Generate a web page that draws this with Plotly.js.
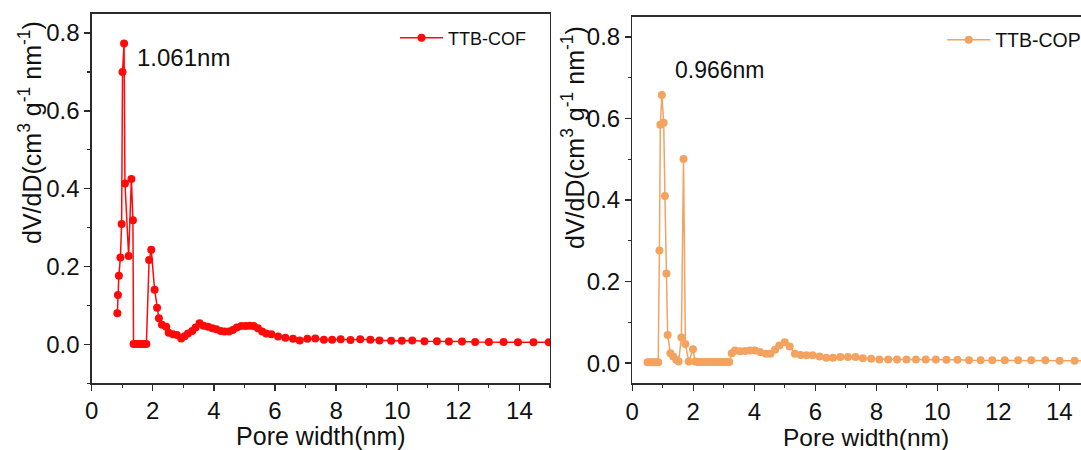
<!DOCTYPE html>
<html>
<head>
<meta charset="utf-8">
<script src="https://cdn.plot.ly/plotly-3.0.1.min.js"></script>
<style>html,body{margin:0;padding:0;background:#fff;}#chart{width:1081px;height:450px;}</style>
</head>
<body>
<div id="chart"></div>
<script>
// TTB-COF pore size distribution (left panel)
const cofX = [0.84,0.86,0.89,0.94,0.98,1.01,1.06,1.09,1.21,1.30,1.35,1.37,1.44,1.51,1.58,1.65,1.72,1.79,1.88,1.95,2.06,2.14,2.20,2.30,2.44,2.52,2.66,2.79,2.93,3.04,3.15,3.29,3.40,3.53,3.66,3.81,3.95,4.08,4.22,4.35,4.49,4.62,4.75,4.90,5.04,5.17,5.30,5.44,5.58,5.71,5.88,6.10,6.34,6.59,6.81,7.06,7.32,7.60,7.87,8.15,8.47,8.79,9.12,9.42,9.80,10.15,10.49,10.89,11.30,11.69,12.12,12.55,13.00,13.48,13.95,14.46,14.96];
const cofY = [0.080,0.127,0.176,0.223,0.309,0.700,0.773,0.413,0.227,0.425,0.319,0.001,0.001,0.001,0.001,0.001,0.001,0.001,0.217,0.243,0.140,0.094,0.067,0.050,0.045,0.030,0.026,0.024,0.015,0.021,0.028,0.034,0.043,0.054,0.048,0.045,0.041,0.039,0.034,0.033,0.033,0.037,0.043,0.047,0.047,0.048,0.047,0.041,0.033,0.028,0.026,0.020,0.017,0.014,0.010,0.014,0.015,0.012,0.012,0.013,0.011,0.013,0.012,0.010,0.009,0.009,0.010,0.008,0.008,0.007,0.007,0.006,0.006,0.006,0.005,0.005,0.005];

// TTB-COP pore size distribution (right panel)
const copX = [0.50,0.57,0.64,0.71,0.78,0.85,0.89,0.92,0.97,1.03,1.07,1.12,1.16,1.25,1.34,1.44,1.52,1.61,1.68,1.74,1.85,1.99,2.06,2.13,2.20,2.28,2.35,2.43,2.50,2.58,2.65,2.73,2.80,2.88,2.95,3.03,3.10,3.18,3.26,3.37,3.53,3.70,3.86,4.02,4.19,4.38,4.53,4.68,4.82,5.00,5.16,5.33,5.52,5.71,5.91,6.14,6.36,6.58,6.82,7.07,7.32,7.56,7.83,8.10,8.39,8.68,8.99,9.30,9.62,9.95,10.30,10.66,11.04,11.42,11.80,12.21,12.65,13.08,13.54,14.01,14.50,15.00];
const copY = [0.002,0.002,0.002,0.002,0.002,0.002,0.276,0.585,0.658,0.590,0.410,0.220,0.069,0.024,0.016,0.008,0.004,0.063,0.501,0.047,0.004,0.034,0.004,0.003,0.003,0.003,0.003,0.003,0.003,0.003,0.003,0.003,0.003,0.003,0.003,0.003,0.003,0.003,0.024,0.031,0.029,0.030,0.031,0.031,0.027,0.023,0.023,0.033,0.043,0.051,0.041,0.023,0.020,0.019,0.019,0.016,0.013,0.013,0.015,0.015,0.015,0.012,0.011,0.009,0.009,0.009,0.009,0.009,0.009,0.009,0.008,0.008,0.007,0.007,0.007,0.007,0.007,0.007,0.007,0.006,0.006,0.006];

const seriesNames = ['TTB-COF', 'TTB-COP'];
const peakLabels = ['1.061nm', '0.966nm'];
const xTitle = 'Pore width(nm)';
const yTitle = 'dV/dD(cm<sup>3</sup> g<sup>-1</sup> nm<sup>-1</sup>)';

const FONT = 'Arial, "Liberation Sans", sans-serif';
const RED = '#ff0a0a';
const ORANGE = '#f3a35f';
const AX = '#2b2b2b';

const traces = [
  {x: cofX, y: cofY, name: seriesNames[0], type: 'scatter', mode: 'lines+markers',
   xaxis: 'x', yaxis: 'y', legend: 'legend',
   line: {color: RED, width: 1.5},
   marker: {color: RED, size: 8, line: {width: 0}}},
  {x: copX, y: copY, name: seriesNames[1], type: 'scatter', mode: 'lines+markers',
   xaxis: 'x2', yaxis: 'y2', legend: 'legend2',
   line: {color: ORANGE, width: 1.5},
   marker: {color: ORANGE, size: 8, line: {width: 0}}}
];

function xAxis(domain, range, anchor, withTitle) {
  const ax = {
    domain: domain, range: range, anchor: anchor,
    showline: true, linecolor: AX, linewidth: 1.3, mirror: true,
    ticks: 'outside', ticklen: 6, tickwidth: 1.3, tickcolor: AX,
    tick0: 0, dtick: 2,
    minor: {dtick: 1, ticks: 'outside', ticklen: 3, tickwidth: 1.2, tickcolor: AX, showgrid: false},
    showgrid: false, zeroline: false,
    tickfont: {family: FONT, size: 24, color: '#111'}
  };
  if (withTitle) ax.title = {text: xTitle, font: {family: FONT, size: 25, color: '#111'}, standoff: 3};
  return ax;
}
function yAxis(domain, range, anchor, mirror) {
  return {
    domain: domain, range: range, anchor: anchor,
    showline: true, linecolor: AX, linewidth: 1.3, mirror: mirror,
    ticks: 'outside', ticklen: 6, tickwidth: 1.3, tickcolor: AX,
    tick0: 0, dtick: 0.2, tickformat: '.1f',
    minor: {dtick: 0.1, ticks: 'outside', ticklen: 3, tickwidth: 1.2, tickcolor: AX, showgrid: false},
    showgrid: false, zeroline: false,
    tickfont: {family: FONT, size: 24, color: '#111'}
  };
}

const layout = {
  width: 1081, height: 450,
  margin: {l: 0, r: 0, t: 0, b: 0, autoexpand: false},
  paper_bgcolor: '#fff', plot_bgcolor: '#fff',
  font: {family: FONT, color: '#111'},
  xaxis: xAxis([0.0848, 0.5088], [0, 15], 'y', true),
  yaxis: yAxis([0.1484, 0.9698], [-0.1, 0.85], 'x', true),
  xaxis2: xAxis([0.5849, 1.0], [0, 14.71], 'y2', false),
  yaxis2: yAxis([0.1478, 0.963], [-0.05, 0.85], 'x2', false),
  showlegend: true,
  legend: {x: 0.3654, y: 0.9156, xanchor: 'left', yanchor: 'middle',
    bgcolor: 'rgba(0,0,0,0)', itemwidth: 43,
    font: {family: FONT, size: 18, color: '#111'}},
  legend2: {x: 0.8716, y: 0.911, xanchor: 'left', yanchor: 'middle',
    bgcolor: 'rgba(0,0,0,0)', itemwidth: 43,
    font: {family: FONT, size: 19.5, color: '#111'}},
  annotations: [
    {text: peakLabels[0], xref: 'paper', yref: 'paper', x: 183/1081, y: 1 - 57/450,
     xanchor: 'center', yanchor: 'middle', showarrow: false,
     font: {family: FONT, size: 24, color: '#111'}},
    {text: peakLabels[1], xref: 'paper', yref: 'paper', x: 720/1081, y: 1 - 70/450,
     xanchor: 'center', yanchor: 'middle', showarrow: false,
     font: {family: FONT, size: 23, color: '#111'}},
    {text: yTitle, xref: 'paper', yref: 'paper', x: 30/1081, y: 1 - 133/450,
     xanchor: 'center', yanchor: 'middle', textangle: -90, showarrow: false,
     font: {family: FONT, size: 25, color: '#111'}},
    {text: yTitle, xref: 'paper', yref: 'paper', x: 573/1081, y: 1 - 138/450,
     xanchor: 'center', yanchor: 'middle', textangle: -90, showarrow: false,
     font: {family: FONT, size: 25, color: '#111'}},
    {text: xTitle, xref: 'paper', yref: 'paper', x: 866/1081, y: 1 - 437.5/450,
     xanchor: 'center', yanchor: 'middle', showarrow: false, borderpad: 0,
     font: {family: FONT, size: 24.5, color: '#111'}}
  ]
};

Plotly.newPlot('chart', traces, layout, {displayModeBar: false, staticPlot: true});
</script>
</body>
</html>
